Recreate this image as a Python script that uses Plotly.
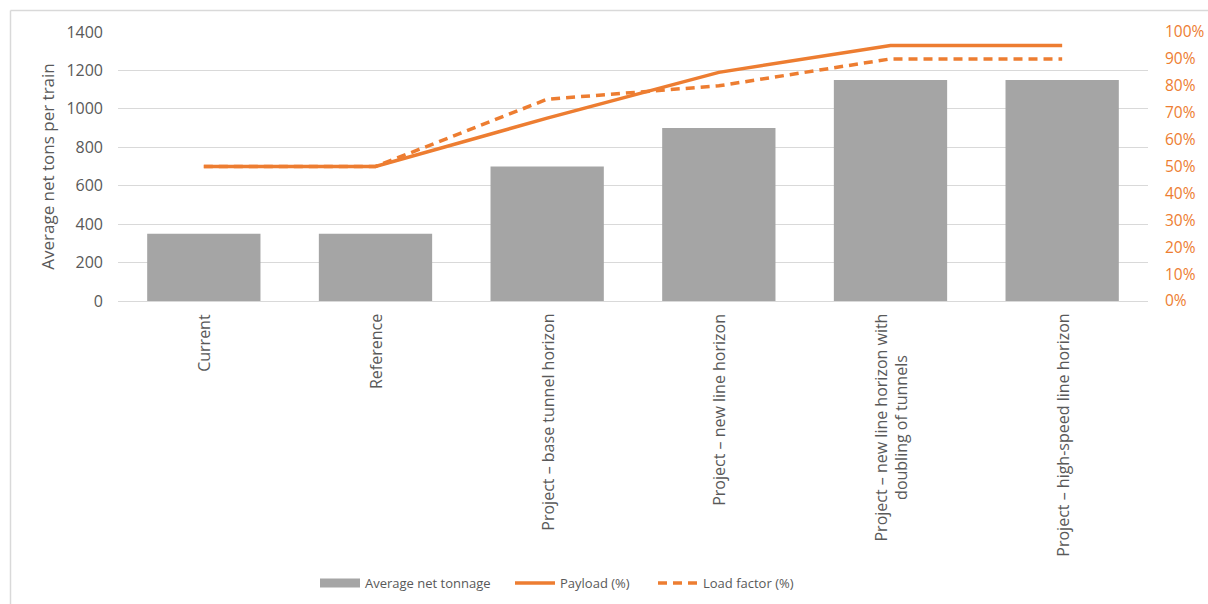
import plotly.graph_objects as go

categories = [
    "Current",
    "Reference",
    "Project – base tunnel horizon",
    "Project – new line horizon",
    "Project – new line horizon with doubling of tunnels",
    "Project – high-speed line horizon",
]
tick_labels = [
    "Current",
    "Reference",
    "Project – base tunnel horizon",
    "Project – new line horizon",
    "Project – new line horizon with<br>doubling of tunnels",
    "Project – high-speed line horizon",
]
net_tonnage = [350, 350, 700, 900, 1150, 1150]
payload_pct = [0.50, 0.50, 0.68, 0.85, 0.95, 0.95]
load_factor_pct = [0.50, 0.50, 0.75, 0.80, 0.90, 0.90]

ORANGE = "#ED7D31"
GRAY_BAR = "#A5A5A5"
TEXT = "#595959"
GRID = "#D9D9D9"
FONT = "'Open Sans', Lato, sans-serif"

W, H = 1208, 604
L, R, T, B = 118, 60, 32, 303
pw, ph = W - L - R, H - T - B

def px_x(p):
    return (p - L) / pw

def px_y(p):
    return (H - B - p) / ph

fig = go.Figure()
fig.add_trace(go.Bar(
    x=categories, y=net_tonnage, name="Average net tonnage",
    marker=dict(color=GRAY_BAR, line=dict(width=0)), yaxis="y", showlegend=False,
))
# legend swatch for the bars (wide rectangle like the original)
fig.add_trace(go.Scatter(
    x=[None], y=[None], name="Average net tonnage", mode="lines",
    line=dict(color=GRAY_BAR, width=9), yaxis="y", legend="legend",
))
fig.add_trace(go.Scatter(
    x=categories, y=payload_pct, name="Payload (%)", mode="lines",
    line=dict(color=ORANGE, width=3.5), yaxis="y2", legend="legend2",
))
fig.add_trace(go.Scatter(
    x=categories, y=load_factor_pct, name="Load factor (%)", mode="lines",
    line=dict(color=ORANGE, width=3.5, dash="9px,6px"), yaxis="y2", legend="legend3",
))

def leg(xpx):
    return dict(
        orientation="h", x=px_x(xpx), xanchor="left", y=px_y(583), yanchor="middle",
        font=dict(size=13, color=TEXT), itemwidth=40, bgcolor="rgba(0,0,0,0)",
    )

# category labels, rotated, centred on each category (multi-line labels centred)
annotations = [
    dict(x=cat, xref="x", y=px_y(312), yref="paper", text=lbl, textangle=-90,
         xanchor="center", yanchor="top", align="center", showarrow=False,
         font=dict(size=16, color=TEXT, family=FONT))
    for cat, lbl in zip(categories, tick_labels)
]

fig.update_layout(
    width=W, height=H,
    margin=dict(l=L, r=R, t=T, b=B, autoexpand=False),
    paper_bgcolor="white", plot_bgcolor="white",
    font=dict(family=FONT, color=TEXT, size=14),
    bargap=0.34,
    showlegend=True,
    legend=leg(315),
    legend2=leg(510),
    legend3=leg(653),
    annotations=annotations,
    xaxis=dict(
        showticklabels=False,
        showgrid=False, showline=False, ticks="", zeroline=False,
    ),
    yaxis=dict(
        range=[0, 1400], dtick=200, tickfont=dict(size=16, color=TEXT),
        showgrid=True, gridcolor=GRID, gridwidth=1.3, zeroline=True, zerolinecolor=GRID,
        zerolinewidth=1.3, showline=False, ticklabelstandoff=14,
        title=dict(text="Average net tons per train", font=dict(size=17, color=TEXT), standoff=7),
    ),
    yaxis2=dict(
        range=[0, 1], dtick=0.1, tickformat=".0%", overlaying="y", side="right",
        tickfont=dict(size=15.5, color=ORANGE), showgrid=False, zeroline=False,
        showline=False, ticklabelstandoff=16,
    ),
    shapes=[
        dict(type="line", xref="paper", yref="paper", x0=px_x(10.5), x1=px_x(10.5),
             y0=px_y(10.5), y1=px_y(620), line=dict(color=GRID, width=1.5)),
        dict(type="line", xref="paper", yref="paper", x0=px_x(10.5), x1=px_x(1230),
             y0=px_y(10.5), y1=px_y(10.5), line=dict(color=GRID, width=1.5)),
    ],
)

fig.write_html("out.html")
